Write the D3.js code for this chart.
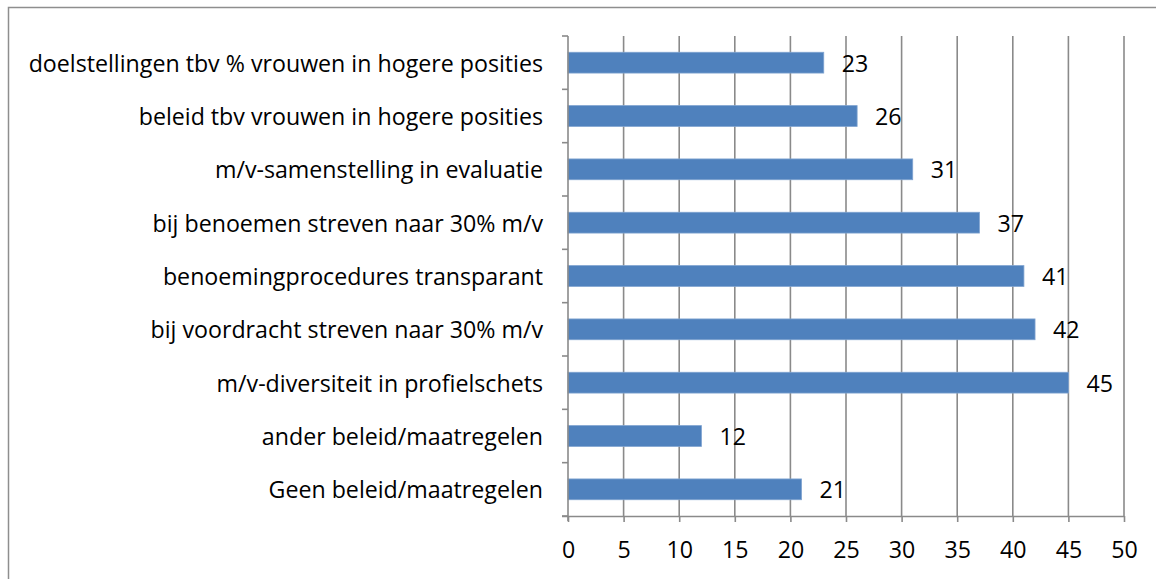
<!DOCTYPE html>
<html>
<head>
<meta charset="utf-8">
<script src="https://cdn.jsdelivr.net/npm/d3@7"></script>
<style>
  html, body { margin: 0; padding: 0; background: #fff; }
  svg { display: block; }
  text { font-family: "Open Sans", Lato, sans-serif; fill: #000; }
</style>
</head>
<body>
<script>
// Measures in place, top to bottom
const categories = [
  "doelstellingen tbv % vrouwen in hogere posities",
  "beleid tbv vrouwen in hogere posities",
  "m/v-samenstelling in evaluatie",
  "bij benoemen streven naar 30% m/v",
  "benoemingprocedures transparant",
  "bij voordracht streven naar 30% m/v",
  "m/v-diversiteit in profielschets",
  "ander beleid/maatregelen",
  "Geen beleid/maatregelen"
];
const values = [23, 26, 31, 37, 41, 42, 45, 12, 21];
const xTicks = [0, 5, 10, 15, 20, 25, 30, 35, 40, 45, 50];

const W = 1156, H = 579;
const plot = { left: 568, right: 1124, top: 36, bottom: 516 };
const fontSize = 23.2;

const svg = d3.select("body").append("svg")
  .attr("width", W).attr("height", H);

// chart frame
svg.append("rect")
  .attr("x", 8.5).attr("y", 7.5)
  .attr("width", W + 20).attr("height", H + 20)
  .attr("fill", "none").attr("stroke", "#8e8e8e").attr("stroke-width", 1.5);

const x = d3.scaleLinear().domain([0, 50]).range([plot.left, plot.right]);
const y = d3.scaleBand().domain(categories).range([plot.top, plot.bottom]).paddingInner(0.61).paddingOuter(0.305);

// vertical gridlines
svg.append("g").selectAll("line").data(xTicks.slice(1)).join("line")
  .attr("x1", d => x(d)).attr("x2", d => x(d))
  .attr("y1", plot.top).attr("y2", plot.bottom)
  .attr("stroke", "#8a8a8a").attr("stroke-width", 1.6);

// bars
svg.append("g").selectAll("rect").data(values).join("rect")
  .attr("x", x(0))
  .attr("y", (d, i) => y(categories[i]))
  .attr("width", d => x(d) - x(0))
  .attr("height", y.bandwidth())
  .attr("fill", "#4f81bd")
  .attr("stroke", "#7fa3d0").attr("stroke-width", 0.8);

// value labels
svg.append("g").selectAll("text").data(values).join("text")
  .attr("x", d => x(d) + 18)
  .attr("y", (d, i) => y(categories[i]) + y.bandwidth() / 2)
  .attr("dominant-baseline", "central")
  .attr("font-size", fontSize)
  .text(d => d);

// y axis: line with ticks at category boundaries
const yAxis = svg.append("g");
yAxis.append("line")
  .attr("x1", plot.left).attr("x2", plot.left)
  .attr("y1", plot.top).attr("y2", plot.bottom + 5)
  .attr("stroke", "#8a8a8a").attr("stroke-width", 1.6);
const bounds = d3.range(categories.length + 1).map(i => plot.top + i * (plot.bottom - plot.top) / categories.length);
yAxis.selectAll("line.tick").data(bounds).join("line").attr("class", "tick")
  .attr("x1", plot.left - 6).attr("x2", plot.left)
  .attr("y1", d => d).attr("y2", d => d)
  .attr("stroke", "#8a8a8a").attr("stroke-width", 1.6);
yAxis.selectAll("text").data(categories).join("text")
  .attr("x", plot.left - 25)
  .attr("y", d => y(d) + y.bandwidth() / 2)
  .attr("text-anchor", "end")
  .attr("dominant-baseline", "central")
  .attr("font-size", fontSize)
  .text(d => d);

// x axis
const xAxis = svg.append("g").attr("transform", `translate(0,${plot.bottom})`)
  .call(d3.axisBottom(x).tickValues(xTicks).tickSize(6).tickPadding(20).tickSizeOuter(0));
xAxis.select(".domain").attr("stroke", "#8a8a8a").attr("stroke-width", 1.6)
  .attr("d", `M${plot.left - 6},0.5H${plot.right}`);
xAxis.selectAll(".tick line").attr("stroke", "#8a8a8a").attr("stroke-width", 1.6);
xAxis.selectAll(".tick text").attr("font-size", fontSize).attr("fill", "#000")
  .style("font-family", "'Open Sans', Lato, sans-serif");
</script>
</body>
</html>
